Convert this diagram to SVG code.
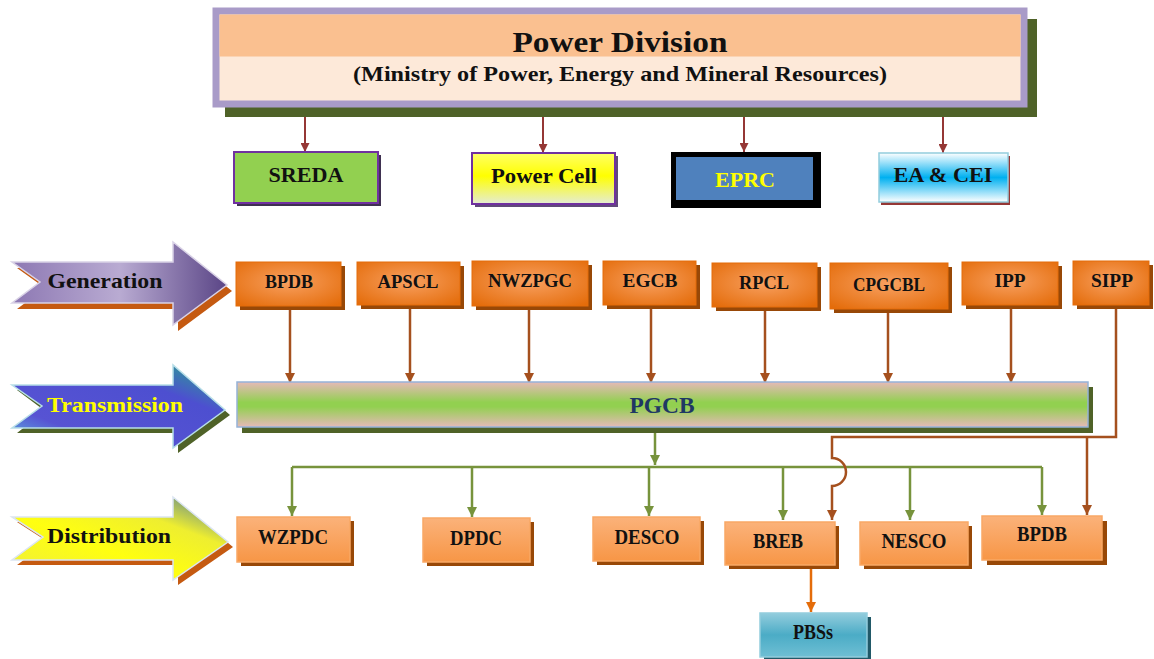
<svg xmlns="http://www.w3.org/2000/svg" width="1154" height="659" viewBox="0 0 1154 659">
<style>
text{font-family:"Liberation Serif","Times New Roman",serif;font-weight:bold;text-anchor:middle;fill:#111}
.gen{fill:url(#gGen);stroke:#e46c0a;stroke-width:1}
.gsh{fill:#984807}
.dist{fill:url(#gDist);stroke:#f9a865;stroke-width:1.5}
.glbl{font-size:19px}
.dlbl{font-size:20px}
.cRed{stroke:#953735;stroke-width:2;fill:none}
.cBr{stroke:#a5501e;stroke-width:2.5;fill:none}
.cGr{stroke:#77933c;stroke-width:2.5;fill:none}
.cOr{stroke:#e46c0a;stroke-width:2.5;fill:none}
</style>
<defs>
<radialGradient id="gGen" cx="0.5" cy="0.45" r="0.7"><stop offset="0" stop-color="#f8a060"/><stop offset="1" stop-color="#e46c0a"/></radialGradient>
<linearGradient id="gDist" x1="0" y1="0" x2="0" y2="1"><stop offset="0" stop-color="#fbb27a"/><stop offset="1" stop-color="#f79646"/></linearGradient>
<linearGradient id="gPC" x1="0" y1="0" x2="0" y2="1"><stop offset="0" stop-color="#ffff66"/><stop offset="0.45" stop-color="#ffff00"/><stop offset="1" stop-color="#e4ecd6"/></linearGradient>
<linearGradient id="gEA" x1="0" y1="0" x2="0" y2="1"><stop offset="0" stop-color="#ffffff"/><stop offset="0.5" stop-color="#00b0f0"/><stop offset="1" stop-color="#ffffff"/></linearGradient>
<linearGradient id="gPG" x1="0" y1="0" x2="0" y2="1"><stop offset="0" stop-color="#e6b9b8"/><stop offset="0.45" stop-color="#92d050"/><stop offset="0.55" stop-color="#92d050"/><stop offset="1" stop-color="#e6b9b8"/></linearGradient>
<linearGradient id="gPBS" x1="0" y1="0" x2="0" y2="1"><stop offset="0" stop-color="#93cddd"/><stop offset="0.5" stop-color="#4bacc6"/><stop offset="1" stop-color="#6fbfd4"/></linearGradient>
<linearGradient id="gAG" x1="0" y1="0" x2="1" y2="0"><stop offset="0" stop-color="#8d78b3"/><stop offset="0.5" stop-color="#b9abd2"/><stop offset="1" stop-color="#5a4586"/></linearGradient>
<linearGradient id="gAT" x1="0" y1="1" x2="1" y2="0"><stop offset="0" stop-color="#5ec3e0"/><stop offset="0.25" stop-color="#5753d3"/><stop offset="0.7" stop-color="#4d4fd0"/><stop offset="1" stop-color="#24b084"/></linearGradient>
<linearGradient id="gAD" x1="0" y1="1" x2="1" y2="0"><stop offset="0" stop-color="#eded40"/><stop offset="0.4" stop-color="#ffff10"/><stop offset="0.7" stop-color="#eeee30"/><stop offset="1" stop-color="#3f6fa8"/></linearGradient>
<marker id="mRed" viewBox="0 0 10 10" refX="10" refY="5" markerWidth="9" markerHeight="9" orient="auto" markerUnits="userSpaceOnUse"><path d="M0,0L10,5L0,10z" fill="#953735"/></marker>
<marker id="mBr" viewBox="0 0 10 10" refX="10" refY="5" markerWidth="10" markerHeight="10" orient="auto" markerUnits="userSpaceOnUse"><path d="M0,0L10,5L0,10z" fill="#a5501e"/></marker>
<marker id="mGr" viewBox="0 0 10 10" refX="10" refY="5" markerWidth="10" markerHeight="10" orient="auto" markerUnits="userSpaceOnUse"><path d="M0,0L10,5L0,10z" fill="#77933c"/></marker>
<marker id="mOr" viewBox="0 0 10 10" refX="10" refY="5" markerWidth="10" markerHeight="10" orient="auto" markerUnits="userSpaceOnUse"><path d="M0,0L10,5L0,10z" fill="#e46c0a"/></marker>
</defs>
<rect width="1154" height="659" fill="#ffffff"/>

<g id="connectors">
<line class="cRed" x1="305" y1="108" x2="305" y2="152" marker-end="url(#mRed)"/>
<line class="cRed" x1="543" y1="108" x2="543" y2="153" marker-end="url(#mRed)"/>
<line class="cRed" x1="744" y1="108" x2="744" y2="152" marker-end="url(#mRed)"/>
<line class="cRed" x1="943" y1="108" x2="943" y2="153" marker-end="url(#mRed)"/>
<line class="cBr" x1="290" y1="308" x2="290" y2="383" marker-end="url(#mBr)"/>
<line class="cBr" x1="410" y1="308" x2="410" y2="383" marker-end="url(#mBr)"/>
<line class="cBr" x1="529" y1="308" x2="529" y2="383" marker-end="url(#mBr)"/>
<line class="cBr" x1="651" y1="308" x2="651" y2="383" marker-end="url(#mBr)"/>
<line class="cBr" x1="765" y1="310" x2="765" y2="383" marker-end="url(#mBr)"/>
<line class="cBr" x1="888" y1="312" x2="888" y2="383" marker-end="url(#mBr)"/>
<line class="cBr" x1="1011" y1="308" x2="1011" y2="383" marker-end="url(#mBr)"/>
<line class="cGr" x1="655" y1="432" x2="655" y2="465" marker-end="url(#mGr)"/>
<path class="cGr" d="M292,467H1042"/>
<line class="cGr" x1="292" y1="467" x2="292" y2="516" marker-end="url(#mGr)"/>
<line class="cGr" x1="472" y1="467" x2="472" y2="517" marker-end="url(#mGr)"/>
<line class="cGr" x1="649" y1="467" x2="649" y2="516" marker-end="url(#mGr)"/>
<line class="cGr" x1="783" y1="467" x2="783" y2="520" marker-end="url(#mGr)"/>
<line class="cGr" x1="910" y1="467" x2="910" y2="520" marker-end="url(#mGr)"/>
<line class="cGr" x1="1042" y1="467" x2="1042" y2="515" marker-end="url(#mGr)"/>
<path class="cBr" d="M1116,308V437H832V458A14,14 0 0 1 832,486V520" marker-end="url(#mBr)"/>
<line class="cBr" x1="1087" y1="437" x2="1087" y2="515" marker-end="url(#mBr)"/>
<line class="cOr" x1="811" y1="566" x2="811" y2="612" marker-end="url(#mOr)"/>
</g>

<g id="power-division">
<rect x="225" y="19" width="812" height="98" fill="#4f6228"/>
<rect x="216" y="11" width="808" height="93" fill="#fde9d9" stroke="#a99bc8" stroke-width="7"/>
<rect x="219.5" y="14.5" width="801" height="42" fill="#fac090"/>
<text x="620" y="52" font-size="30" textLength="215" lengthAdjust="spacingAndGlyphs">Power Division</text>
<text x="620" y="81" font-size="22" textLength="534" lengthAdjust="spacingAndGlyphs">(Ministry of Power, Energy and Mineral Resources)</text>
</g>

<g id="sreda">
<rect x="237" y="155" width="144" height="51" fill="#3f3151"/>
<rect x="234" y="152" width="144" height="51" fill="#92d050" stroke="#7030a0" stroke-width="2"/>
<text x="306" y="182" font-size="21" textLength="75" lengthAdjust="spacingAndGlyphs">SREDA</text>
</g>
<g id="power-cell">
<rect x="475" y="156" width="143" height="51" fill="#60497a"/>
<rect x="472" y="153" width="143" height="51" fill="url(#gPC)" stroke="#7030a0" stroke-width="2"/>
<text x="544" y="183" font-size="21" textLength="106" lengthAdjust="spacingAndGlyphs">Power Cell</text>
</g>
<g id="eprc">
<rect x="671" y="152" width="150" height="56" fill="#000"/>
<rect x="676" y="157" width="137" height="43" fill="#4f81bd"/>
<text x="745" y="187" font-size="21" style="fill:#ffff00" textLength="60" lengthAdjust="spacingAndGlyphs">EPRC</text>
</g>
<g id="ea-cei">
<rect x="881" y="156" width="129" height="49" fill="#953735"/>
<rect x="879" y="153" width="129" height="49" fill="url(#gEA)" stroke="#93cddd" stroke-width="1.5"/>
<text x="943" y="182" font-size="21" textLength="99" lengthAdjust="spacingAndGlyphs">EA &amp; CEI</text>
</g>

<g id="generation-arrow">
<path d="M17,268H178V248L232,291L178,331V309H17L45,288Z" fill="#c55a11"/>
<path d="M12,262H173V242L227,285L173,325V303H12L40,282Z" fill="url(#gAG)" stroke="#d9d2e6" stroke-width="1.5"/>
<text x="105" y="288" font-size="22" textLength="115" lengthAdjust="spacingAndGlyphs">Generation</text>
</g>
<g id="transmission-arrow">
<path d="M17,390H178V370L230,415L178,453V433H17L45,411Z" fill="#4f6228"/>
<path d="M12,385H173V365L225,410L173,448V428H12L42,406Z" fill="url(#gAT)" stroke="#b7dee8" stroke-width="1.5"/>
<text x="115" y="412" font-size="22" style="fill:#ffff00" textLength="136" lengthAdjust="spacingAndGlyphs">Transmission</text>
</g>
<g id="distribution-arrow">
<path d="M17,522H178V502L233,547L178,585V565H17L48,542Z" fill="#c55a11"/>
<path d="M12,517H173V497L228,542L173,580V560H12L43,537Z" fill="url(#gAD)" stroke="#dbe5f1" stroke-width="1.5"/>
<text x="109" y="543" font-size="22" textLength="124" lengthAdjust="spacingAndGlyphs">Distribution</text>
</g>

<g id="gen-bpdb"><rect class="gsh" x="240" y="266" width="105" height="44"/><rect class="gen" x="236" y="262" width="105" height="44"/><text class="glbl" x="289" y="288" textLength="48" lengthAdjust="spacingAndGlyphs">BPDB</text></g>
<g id="gen-apscl"><rect class="gsh" x="361" y="266" width="103" height="43"/><rect class="gen" x="357" y="262" width="103" height="43"/><text class="glbl" x="408" y="288" textLength="61" lengthAdjust="spacingAndGlyphs">APSCL</text></g>
<g id="gen-nwzpgc"><rect class="gsh" x="476" y="265" width="116" height="45"/><rect class="gen" x="472" y="261" width="116" height="45"/><text class="glbl" x="530" y="287" textLength="84" lengthAdjust="spacingAndGlyphs">NWZPGC</text></g>
<g id="gen-egcb"><rect class="gsh" x="607" y="265" width="93" height="44"/><rect class="gen" x="603" y="261" width="93" height="44"/><text class="glbl" x="650" y="287" textLength="55" lengthAdjust="spacingAndGlyphs">EGCB</text></g>
<g id="gen-rpcl"><rect class="gsh" x="716" y="267" width="105" height="44"/><rect class="gen" x="712" y="263" width="105" height="44"/><text class="glbl" x="764" y="289" textLength="50" lengthAdjust="spacingAndGlyphs">RPCL</text></g>
<g id="gen-cpgcbl"><rect class="gsh" x="834" y="267" width="118" height="46"/><rect class="gen" x="830" y="263" width="118" height="46"/><text class="glbl" x="889" y="291" textLength="72" lengthAdjust="spacingAndGlyphs">CPGCBL</text></g>
<g id="gen-ipp"><rect class="gsh" x="966" y="266" width="96" height="43"/><rect class="gen" x="962" y="262" width="96" height="43"/><text class="glbl" x="1010" y="287" textLength="31" lengthAdjust="spacingAndGlyphs">IPP</text></g>
<g id="gen-sipp"><rect class="gsh" x="1077" y="265" width="76" height="44"/><rect class="gen" x="1073" y="261" width="76" height="44"/><text class="glbl" x="1112" y="287" textLength="42" lengthAdjust="spacingAndGlyphs">SIPP</text></g>

<g id="pgcb">
<rect x="242" y="387" width="851" height="46" fill="#4f6228"/>
<rect x="237" y="382" width="851" height="45" fill="url(#gPG)" stroke="#95b3d7" stroke-width="1.5"/>
<text x="662" y="413" font-size="23" style="fill:#1f3864" textLength="65" lengthAdjust="spacingAndGlyphs">PGCB</text>
</g>

<g id="dist-wzpdc"><rect class="gsh" x="241" y="521" width="113" height="45"/><rect class="dist" x="237" y="517" width="113" height="45"/><text class="dlbl" x="293" y="544" textLength="70" lengthAdjust="spacingAndGlyphs">WZPDC</text></g>
<g id="dist-dpdc"><rect class="gsh" x="427" y="522" width="107" height="44"/><rect class="dist" x="423" y="518" width="107" height="44"/><text class="dlbl" x="476" y="545" textLength="52" lengthAdjust="spacingAndGlyphs">DPDC</text></g>
<g id="dist-desco"><rect class="gsh" x="597" y="521" width="107" height="44"/><rect class="dist" x="593" y="517" width="107" height="44"/><text class="dlbl" x="647" y="544" textLength="65" lengthAdjust="spacingAndGlyphs">DESCO</text></g>
<g id="dist-breb"><rect class="gsh" x="729" y="526" width="110" height="43"/><rect class="dist" x="725" y="522" width="110" height="43"/><text class="dlbl" x="778" y="548" textLength="50" lengthAdjust="spacingAndGlyphs">BREB</text></g>
<g id="dist-nesco"><rect class="gsh" x="864" y="526" width="108" height="43"/><rect class="dist" x="860" y="522" width="108" height="43"/><text class="dlbl" x="914" y="548" textLength="65" lengthAdjust="spacingAndGlyphs">NESCO</text></g>
<g id="dist-bpdb"><rect class="gsh" x="987" y="521" width="120" height="44"/><rect class="dist" x="982" y="516" width="120" height="44"/><text class="dlbl" x="1042" y="541" textLength="50" lengthAdjust="spacingAndGlyphs">BPDB</text></g>
<g id="pbss"><rect x="764" y="617" width="107" height="44" fill="#215968"/><rect x="760" y="613" width="107" height="44" fill="url(#gPBS)" stroke="#93cddd" stroke-width="1.5"/><text class="dlbl" x="813" y="639" textLength="40" lengthAdjust="spacingAndGlyphs">PBSs</text></g>
</svg>
